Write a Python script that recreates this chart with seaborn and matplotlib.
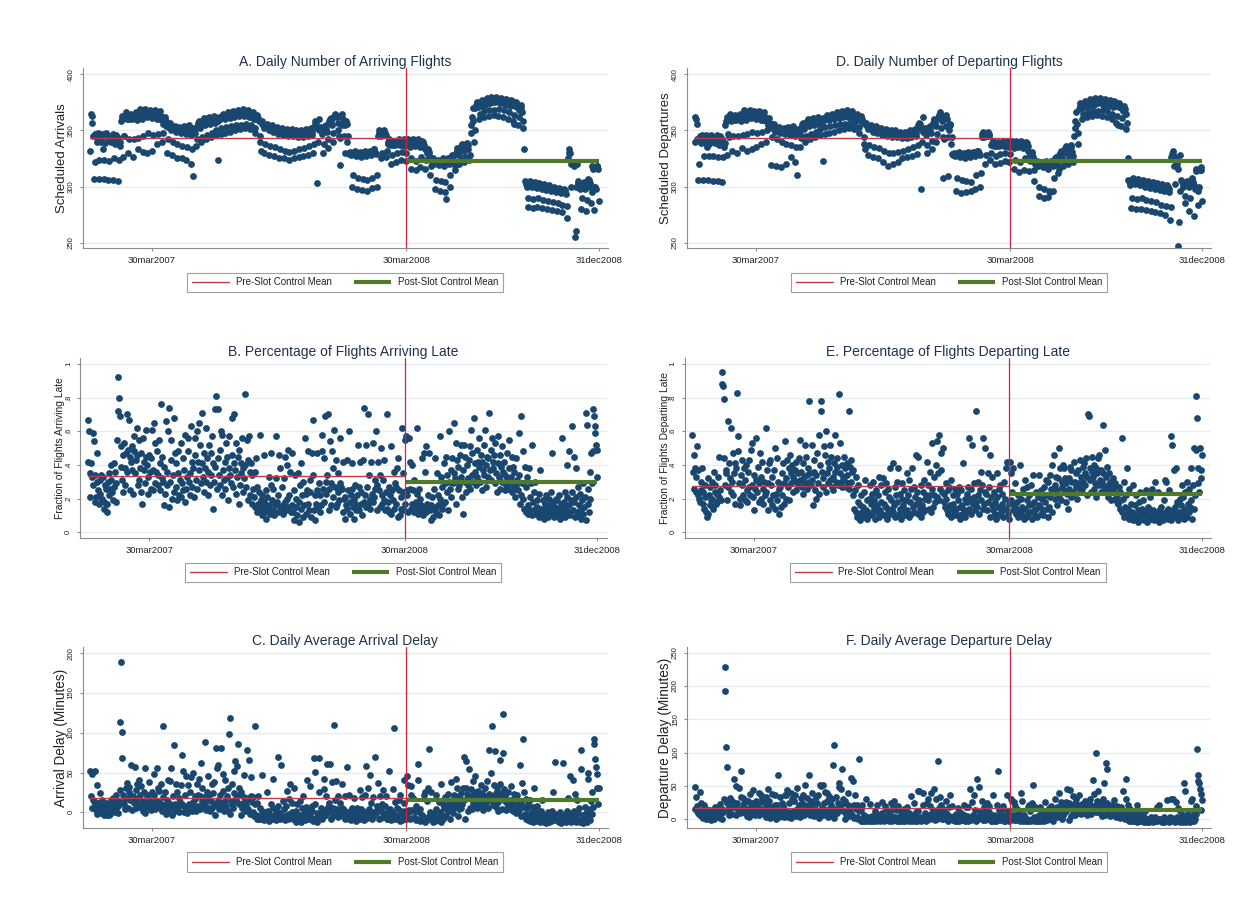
import numpy as np
import pandas as pd
import matplotlib
matplotlib.use("Agg")
import matplotlib.pyplot as plt
from matplotlib.lines import Line2D
import seaborn as sns


def series(text):
    return np.array(text.split(), dtype=float)


# Daily observations, 1 Jan 2007 - 31 Dec 2008; one row per week (Mon..Sun)
sched_arrivals = series("""
332 365 363 357 345 307 322
347 345 340 343 348 307 324
342 340 345 347 333 307 324
339 344 348 346 345 306 323
341 343 340 345 347 306 325
338 342 346 344 343 305 324
336 340 358 360 363 326 345
345 362 366 362 360 330 342
360 363 365 362 360 326 342
362 364 366 361 359 333 343
365 369 368 364 360 331 345
364 367 369 366 362 330 348
363 368 367 365 361 332 346
362 366 368 364 360 338 347
360 365 367 363 360 340 348
356 359 362 358 354 330 342
353 355 357 352 350 328 340
351 353 354 352 349 325 338
350 352 353 350 348 325 336
352 353 354 351 347 324 335
351 353 355 350 346 320 333
309 350 352 351 348 336 342
355 357 358 356 352 340 344
356 359 361 358 355 342 346
358 361 362 359 356 344 348
359 362 363 360 357 346 350
360 358 324 362 360 347 352
362 364 365 363 360 348 353
362 365 366 364 361 349 354
363 366 367 365 362 350 355
364 367 368 366 363 351 355
365 367 369 366 363 352 356
364 366 368 365 362 351 355
362 365 366 364 360 348 352
360 363 364 361 358 340 345
332 356 358 355 352 330 338
353 355 356 353 350 328 336
352 354 355 352 349 327 335
350 352 353 350 347 325 333
349 351 352 349 346 325 332
348 350 351 348 345 324 331
347 349 351 348 345 325 332
346 348 350 347 344 326 333
347 349 350 347 344 327 334
348 350 351 348 345 328 336
349 351 352 349 346 330 338
356 358 357 303 352 340 360
350 352 353 350 347 330 338
352 354 355 352 349 334 342
358 360 361 358 355 340 348
362 364 365 364 362 350 357
345 319 343 363 365 355 360
345 330 355 358 356 340 345
330 329 331 330 328 300 310
331 330 332 330 327 298 308
330 329 331 329 326 297 307
330 331 332 330 327 296 306
331 330 332 331 328 299 308
332 333 333 331 329 300 310
345 348 350 348 345 325 330
346 349 350 348 346 326 332
338 340 342 340 337 320 328
337 340 341 339 337 322 330
338 340 342 340 337 324 331
337 341 342 339 336 323 330
340 342 341 339 335 316 325
341 342 340 338 336 315 323
340 342 341 339 335 317 326
338 341 340 337 333 316 324
330 332 333 331 328 310 318
322 324 325 323 320 298 306
321 323 324 322 319 296 305
322 324 325 322 318 295 304
289 323 325 322 320 300 310
325 327 328 326 322 315 318
330 332 334 332 328 320 324
334 336 338 336 332 322 326
336 338 339 337 333 324 328
348 355 362 370 358 340 350
370 373 375 374 371 360 365
372 375 377 376 373 362 367
373 376 379 378 374 363 368
374 377 380 378 375 364 368
375 378 380 379 376 363 369
374 377 379 378 375 362 368
373 376 378 377 374 360 366
372 375 377 376 373 358 364
356 372 375 374 371 355 362
368 371 373 370 366 352 358
333 305 304 302 300 282 290
303 305 304 302 300 281 289
302 304 303 301 299 282 290
301 303 302 300 298 281 288
301 302 301 299 297 280 287
300 301 300 298 296 279 286
299 300 299 297 295 278 285
298 299 298 296 294 277 284
297 298 297 295 293 272 283
325 330 333 330 320 300 322
320 322 318 255 260 300 320
305 303 300 298 300 280 290
300 302 304 300 298 278 288
305 307 306 303 300 285 295
318 316 300 279 300 298 318
318 316 287
""")

sched_departures = series("""
340 362 360 356 342 306 320
345 343 339 341 346 306 327
341 339 343 346 335 306 327
338 342 346 345 344 305 327
340 342 339 344 346 305 326
337 341 345 343 342 304 326
335 339 355 358 362 328 347
344 361 365 360 358 332 345
359 362 364 361 359 330 345
361 363 365 360 358 334 346
364 368 367 363 359 332 347
363 366 368 365 361 333 349
362 367 366 364 360 335 348
361 365 367 363 359 338 349
359 364 366 362 358 340 350
355 358 361 357 353 319 344
352 354 356 351 349 318 342
350 352 353 351 348 317 340
349 351 352 349 347 320 338
351 352 353 350 346 326 337
350 352 354 349 345 322 335
310 349 351 350 347 335 343
354 356 357 355 351 340 345
355 358 360 357 354 342 347
357 360 361 358 355 344 349
358 361 362 359 356 346 351
359 357 323 361 359 347 353
361 363 364 362 359 348 354
361 364 365 363 360 349 355
362 365 366 364 361 350 356
363 366 367 365 362 351 356
364 366 368 365 362 352 357
363 365 367 364 361 351 356
361 364 365 363 359 348 353
359 362 363 360 357 338 344
333 355 357 354 351 328 337
352 354 355 352 349 326 335
351 353 354 351 348 325 334
349 351 352 349 346 322 332
348 350 351 348 345 318 330
347 349 350 347 344 320 330
346 348 350 347 344 322 331
345 347 349 346 343 325 332
346 348 349 346 343 326 333
347 349 350 347 344 327 335
348 350 351 348 345 329 337
355 357 356 298 351 340 362
349 351 352 349 346 330 337
351 353 354 351 348 333 341
357 359 360 357 354 340 347
361 363 364 366 364 352 358
344 308 342 362 364 354 360
344 309 350 356 355 338 344
329 328 330 329 327 296 308
330 329 331 329 326 294 306
329 328 330 328 325 295 305
329 330 331 329 326 296 304
330 329 331 330 327 298 310
331 332 332 330 328 300 312
344 347 349 347 344 320 328
345 348 349 347 345 324 330
337 339 341 339 336 320 327
336 339 340 338 336 321 329
337 339 341 339 336 323 330
336 340 341 338 335 322 329
339 341 340 338 334 316 324
340 341 339 337 335 313 322
339 341 340 338 334 315 325
337 340 339 336 332 314 323
328 330 331 329 326 305 315
320 322 323 321 318 292 300
319 321 322 320 317 290 298
320 322 323 320 316 291 296
295 321 323 320 318 296 308
323 325 326 324 320 312 316
328 330 332 330 326 318 322
332 334 336 334 330 320 325
334 336 337 335 331 322 327
345 352 358 366 356 338 348
369 372 374 373 370 360 365
371 374 376 375 372 362 366
372 375 378 377 373 363 367
373 376 379 377 374 364 367
374 377 379 378 375 363 368
373 376 378 377 374 362 367
372 375 377 376 373 360 365
371 374 376 375 372 357 363
355 371 374 373 370 354 361
367 370 372 369 365 351 357
325 306 305 303 301 281 290
306 308 307 305 302 280 289
305 307 306 304 301 280 290
304 306 305 303 300 279 288
303 305 304 302 299 278 287
302 304 303 301 298 277 286
301 303 302 300 297 276 284
300 302 301 299 296 275 283
299 301 300 298 295 270 282
326 329 332 329 318 302 325
322 320 316 247 268 296 328
306 304 302 300 302 285 292
302 304 305 302 300 278 290
306 308 307 304 301 274 298
316 314 299 284 296 300 315
317 315 287
""")

# share of flights arriving / departing late, in percent
late_arr_pct = series("""
67 42 60 21 35 41 33
59 28 54 18 34 21 30
47 25 17 31 23 34 19
20 33 18 14 28 26 12
17 30 35 22 26 40 31
24 19 41 27 36 18 29
55 72 92 80 69 51 39
31 24 46 53 38 28 47
70 36 49 67 25 45 42
37 51 23 48 57 35 43
62 46 28 55 31 38 24
47 17 56 37 42 29 45
61 40 33 23 46 36 26
44 61 25 37 65 29 53
36 48 28 34 55 25 41
76 32 45 30 16 39 23
66 36 28 60 74 15 30
43 55 20 34 68 24 47
27 41 19 35 48 22 31
53 21 29 44 25 37 18
58 26 33 48 56 30 22
35 63 27 42 38 21 56
46 31 60 26 42 65 37
52 29 41 71 33 24 47
38 62 30 44 22 36 52
28 47 34 57 14 41 30
73 39 81 26 44 73 34
28 49 60 22 58 37 31
42 26 53 32 45 19 38
57 34 29 46 68 27 41
70 37 23 53 33 45 17
49 28 35 41 56 24 38
32 82 40 27 55 19 43
57 36 22 41 17 34 26
21 36 15 44 12 27 17
13 24 58 19 10 22 15
18 46 12 25 8 21 14
33 16 11 28 47 19 13
26 10 16 32 57 18 12
22 46 15 38 14 27 11
16 32 18 45 13 40 20
49 15 22 36 12 47 16
12 25 7 34 20 15 10
35 18 6 28 14 41 22
9 30 16 56 23 11 25
48 17 13 31 24 9 47
34 67 13 22 7 17 25
47 15 29 22 12 16 48
58 26 18 44 69 30 23
34 70 26 13 54 29 16
48 21 38 61 27 43 15
17 35 24 19 56 29 27
26 12 42 20 8 21 16
43 14 25 60 18 11 22
26 41 15 8 19 28 13
16 22 52 27 13 42 17
24 10 43 18 74 22 15
52 27 17 70 34 20 14
42 23 18 53 21 31 26
60 28 13 42 25 15 34
50 22 17 31 43 19 13
24 14 70 18 27 12 22
11 51 25 19 36 14 29
17 27 38 44 9 25 10
21 14 62 35 24 13 17
55 57 22 25 12 56 42
26 14 40 17 25 31 12
15 18 62 23 11 26 14
20 13 16 44 10 47 15
36 12 51 17 14 22 47
13 16 7 21 15 9 26
44 14 12 35 16 22 10
57 20 33 14 27 17 41
18 29 45 24 34 13 30
60 26 37 21 44 29 35
65 32 53 17 43 26 39
28 46 33 52 21 37 11
52 30 45 24 40 32 28
43 51 26 61 34 47 30
68 41 36 28 49 33 42
39 56 30 46 25 42 37
52 34 61 40 27 45 33
44 71 37 49 31 56 42
38 46 29 53 35 24 41
57 33 46 26 39 30 51
36 42 25 34 28 47 32
26 38 55 29 33 24 45
39 27 36 21 44 28 31
25 59 34 17 69 22 29
48 20 14 39 27 12 33
16 11 38 21 13 29 10
52 18 24 14 30 11 19
15 12 9 23 37 14 11
10 19 13 8 17 12 22
14 9 20 11 16 24 13
47 12 18 9 15 20 11
19 10 14 22 8 13 17
56 15 11 18 9 24 14
40 21 12 48 16 10 19
63 24 13 45 18 9 38
21 12 27 10 16 23 14
8 19 11 29 15 21 7
71 64 17 26 12 36 20
47 29 48 73 69 59 63
52 33 49
""")

late_dep_pct = series("""
58 36 46 26 38 33 24
51 22 37 20 18 30 25
38 17 24 14 28 21 12
9 32 11 22 16 27 19
20 30 14 36 24 28 17
23 18 33 21 45 25 19
95 88 87 79 44 28 35
37 19 66 27 41 32 24
62 30 22 47 35 17 41
38 83 57 48 29 20 16
34 43 28 22 38 19 31
40 25 18 36 27 43 22
49 28 53 21 34 13 26
56 31 24 39 18 29 47
33 20 42 26 17 30 22
62 24 37 29 13 41 19
43 28 16 33 22 37 14
50 23 19 44 30 11 26
27 15 35 22 41 17 29
54 32 20 43 27 38 19
46 29 35 40 24 33 31
37 25 42 30 35 28 44
31 55 36 27 41 23 33
52 29 45 34 26 38 30
78 35 28 52 31 16 36
43 25 34 20 47 29 23
58 40 78 72 36 32 27
51 46 24 60 35 29 42
38 52 31 45 27 33 25
41 36 58 30 44 39 28
82 35 53 30 40 27 33
45 31 38 27 41 34 29
72 26 39 43 30 36 22
37 14 25 12 33 9 18
28 11 16 7 22 12 10
15 24 9 31 13 19 8
12 20 28 10 17 23 11
30 14 19 8 25 12 16
22 9 33 13 18 28 11
32 17 10 24 15 29 8
26 13 21 38 11 19 14
41 12 16 27 9 22 30
18 38 11 23 14 8 20
29 16 13 25 10 19 35
13 22 9 31 18 11 26
38 15 27 12 21 46 17
24 45 11 19 14 9 28
16 24 12 31 20 13 22
42 19 28 14 36 22 12
53 26 15 33 22 18 40
54 21 35 58 19 26 47
37 24 50 18 23 15 29
20 13 25 11 27 16 9
31 14 22 17 12 26 10
14 23 10 19 27 8 15
25 16 11 41 13 20 9
12 23 18 27 14 56 20
26 11 52 17 21 29 13
72 18 15 30 22 11 25
36 19 28 14 56 17 24
50 23 13 35 18 27 9
46 21 16 33 13 24 11
18 8 35 21 15 26 10
28 12 17 23 9 30 14
20 38 14 42 11 17 8
42 35 19 24 13 38 16
15 29 11 18 22 9 13
40 12 20 15 10 26 8
31 14 9 19 27 11 16
22 12 28 8 17 34 13
18 10 24 14 9 21 16
34 15 11 25 20 10 13
27 18 31 22 14 9 30
15 21 34 26 12 40 24
46 28 20 33 16 25 32
50 22 38 19 30 27 40
38 25 32 18 29 23 14
32 26 39 21 37 30 24
23 42 30 27 35 20 28
37 29 43 24 33 26 39
30 41 35 28 44 22 33
70 69 31 38 24 45 36
33 26 40 29 38 21 35
44 28 46 31 24 37 30
64 35 27 49 33 25 39
28 21 35 24 30 19 26
32 25 27 20 29 23 18
22 17 27 14 24 19 12
56 20 9 30 15 22 11
38 14 8 26 11 17 9
12 7 28 10 16 8 22
9 13 6 18 11 24 8
14 10 19 7 12 8 25
11 6 15 9 21 13 8
26 9 13 7 11 30 10
12 8 24 10 6 14 9
15 11 7 19 9 31 12
30 10 14 8 25 11 7
57 52 13 9 37 15 11
38 10 18 7 12 20 9
16 28 10 21 8 14 24
11 30 9 17 26 12 15
38 19 8 28 14 50 22
49 81 68 29 38 24 50
37 32 46
""")

# average delay, minutes
arr_delay = series("""
52 20 48 5 16 14 10
52 3 34 -2 12 0 8
24 6 -1 15 2 10 -3
0 12 -2 -4 8 5 -3
-2 10 16 3 7 18 12
5 0 22 7 14 -1 9
28 113 189 101 68 22 15
10 4 30 37 18 6 25
32 16 20 60 3 21 14
12 57 6 28 35 11 18
40 22 7 33 8 14 2
25 -1 56 12 20 6 22
38 15 9 3 26 10 5
22 48 4 14 56 8 30
13 27 6 10 35 2 19
108 9 25 8 -2 15 3
40 12 6 39 56 -3 9
20 85 1 11 36 3 25
6 18 0 13 34 72 10
52 0 8 22 4 45 -1
34 5 11 26 44 7 2
13 50 5 20 17 1 36
22 8 42 4 20 62 14
30 7 19 88 11 3 25
16 46 6 22 2 14 35
6 24 10 38 -4 81 9
56 16 59 4 22 81 12
5 27 48 1 40 14 8
20 2 30 99 118 -2 14
36 10 6 24 52 65 18
58 13 86 31 10 23 -3
26 5 12 19 47 2 15
9 78 18 4 66 -2 20
44 13 0 19 -5 10 108
-4 12 -8 20 -9 5 -5
-8 1 47 -3 -10 0 -6
-4 25 -9 2 -11 -2 -7
10 -6 -9 5 42 -3 -8
3 -10 -5 8 69 -4 -8
-1 60 -6 14 -7 4 -10
-5 8 -3 27 -8 17 -2
35 -6 0 12 -9 30 -5
-9 2 -12 10 -3 -7 -10
14 -4 -12 5 -7 20 -1
-10 7 -5 41 0 -9 2
33 -5 -8 8 1 -11 68
10 51 -7 -1 -12 -5 68
26 -7 6 -1 -9 -6 29
42 3 -4 21 61 7 0
12 61 3 -8 38 6 -5
110 -1 15 39 4 20 -6
-5 12 1 -3 36 6 4
3 -9 20 -2 57 -1 -6
22 -8 2 -10 -4 5 -9
3 18 -7 -11 -3 6 -8
-6 -1 28 4 -9 19 -5
1 -10 22 -4 58 -1 -7
30 4 -5 47 12 -2 -8
19 0 -4 70 -1 8 3
37 5 -8 20 2 -7 11
28 -1 -6 8 21 -4 -9
1 -8 52 -5 4 -10 0
-9 29 106 -3 13 -8 6
-5 4 16 22 -11 2 -10
-2 -8 40 12 1 -9 -5
46 34 0 3 -9 33 22
3 -7 18 -6 2 8 -10
-8 61 40 0 -11 4 -8
-3 -9 -6 22 -12 25 -7
14 -10 30 -5 80 0 25
-9 -6 -12 -1 -7 -11 4
22 -8 -10 13 -6 0 -12
35 -3 11 -8 5 -5 19
-4 7 23 2 12 -9 8
38 4 15 -1 22 7 13
42 10 31 -5 21 4 17
6 24 11 30 70 15 -9
30 65 23 2 18 54 6
21 29 4 39 12 25 8
46 19 14 6 27 11 20
17 34 8 24 3 20 15
30 12 39 18 5 23 78
22 49 15 109 9 34 20
77 24 7 31 13 2 19
35 66 24 4 123 75 29
14 20 3 12 6 25 10
4 16 33 7 11 2 23
17 5 14 -1 22 6 9
3 59 12 -5 37 92 7
26 -2 -8 17 5 -10 11
-6 -11 16 -1 -9 7 -12
30 -4 2 -8 8 -11 -3
-7 -10 -12 1 15 -8 -11
-12 -3 -9 -13 -5 -10 0
-8 -12 -2 -11 -6 2 -9
25 -10 -4 63 -7 -2 -11
-3 -12 -8 0 -13 -9 -5
62 -7 -11 -4 -12 2 -8
18 -1 -10 46 -6 -12 -3
41 2 -9 23 -4 -12 16
-1 -10 5 -12 78 54 -8
-13 -3 -11 7 -7 -1 -12
49 42 -5 4 -10 14 -2
25 7 92 86 67 57 48
30 11 30
""")

dep_delay = series("""
48 16 33 12 20 10 8
41 6 24 3 14 2 10
22 9 1 16 5 12 0
3 14 1 -1 10 6 0
0 12 18 5 9 19 13
8 2 23 10 15 1 11
30 192 228 109 79 25 16
12 6 32 29 19 8 26
60 18 22 50 6 24 16
14 47 9 72 33 12 20
32 24 10 29 11 16 5
27 3 38 15 22 8 24
44 18 12 6 27 13 8
23 40 7 16 36 10 30
15 26 8 12 33 4 21
45 11 27 10 2 18 5
38 14 9 36 22 1 12
21 66 4 13 33 5 25
9 20 3 15 36 37 12
44 3 11 24 6 40 2
31 8 13 27 36 9 5
16 47 8 22 19 4 32
24 11 36 7 22 51 16
32 10 21 67 14 6 27
18 40 9 24 5 16 34
9 25 12 36 2 52 11
50 18 51 7 24 41 14
8 28 40 4 35 16 10
22 5 30 82 111 2 16
34 13 9 25 54 48 20
46 15 76 30 12 25 1
27 8 14 21 40 5 17
11 62 20 7 58 2 21
36 15 3 21 0 12 90
1 14 -2 22 -3 7 0
-2 4 31 1 -3 3 0
1 23 -2 5 -3 2 -1
13 0 -2 8 22 1 -1
6 -3 0 10 26 1 -2
3 20 0 16 -1 7 -3
0 11 2 24 -2 18 3
28 0 4 14 -2 20 1
-2 5 -3 12 2 -1 -3
16 1 -3 8 -1 19 3
-3 10 0 35 4 -2 6
25 0 -2 11 5 -3 42
13 43 -1 3 -3 1 40
22 -1 9 3 -2 0 24
31 6 1 20 40 10 4
14 45 6 -1 30 9 1
88 3 17 33 8 21 0
0 15 5 2 28 9 7
6 -2 19 3 36 4 0
20 -1 5 -3 1 8 -2
6 17 0 -3 2 9 -1
0 4 22 7 -2 18 1
5 -3 19 1 46 4 -1
26 7 1 36 14 3 -2
60 4 1 48 3 11 6
28 8 -1 18 5 -1 13
24 4 0 11 20 1 -2
5 -2 37 1 7 -3 3
-2 22 73 2 14 -1 9
0 7 16 20 -3 5 -2
2 -1 36 13 4 -2 0
30 27 4 6 -1 26 20
6 -1 16 0 5 10 -3
-1 40 28 3 -3 7 -1
1 -2 0 18 -3 21 -1
13 -3 24 0 52 4 20
-2 0 -3 3 -1 -3 7
18 -1 -2 12 0 4 -3
26 1 11 -1 8 0 17
1 9 20 5 12 -2 10
30 7 15 3 19 9 13
39 12 26 1 19 7 16
9 21 12 26 45 15 -1
25 44 20 5 17 35 8
19 24 7 30 12 21 10
36 17 14 8 23 12 19
16 28 9 21 6 18 14
26 13 31 16 8 20 59
20 38 14 99 11 28 18
42 21 9 26 13 5 17
30 54 21 6 85 76 25
14 18 5 12 8 22 10
6 15 29 9 12 4 20
15 7 13 2 19 8 10
5 42 12 0 30 60 9
22 1 -2 15 6 -3 10
-1 -3 13 2 -2 8 -4
22 0 4 -2 9 -3 1
-2 -3 -4 3 12 -1 -3
-4 0 -2 -4 -1 -3 3
-1 -4 1 -3 0 4 -2
18 -3 0 21 -1 1 -3
0 -4 -1 3 -4 -2 0
29 -1 -3 0 -4 4 -1
30 2 -3 31 0 -4 1
26 4 -2 17 0 -4 13
2 -3 6 -4 54 42 -1
-4 1 -3 8 -1 2 -4
28 31 0 5 -2 12 1
20 8 106 66 57 55 45
38 14 29
""")

dates = pd.date_range("2007-01-01", "2008-12-31", freq="D")
slot_date = pd.Timestamp("2008-03-30")

date_ticks = ["2007-03-30", "2008-03-30", "2008-12-31"]
date_tick_labels = ["30mar2007", "30mar2008", "31dec2008"]

titles = ["A. Daily Number of Arriving Flights",
          "B. Percentage of Flights Arriving Late",
          "C. Daily Average Arrival Delay",
          "D. Daily Number of Departing Flights",
          "E. Percentage of Flights Departing Late",
          "F. Daily Average Departure Delay"]
ylabels = ["Scheduled Arrivals", "Fraction of Flights Arriving Late",
           "Arrival Delay (Minutes)", "Scheduled Departures",
           "Fraction of Flights Departing Late", "Departure Delay (Minutes)"]
pre_means = [343.3, 0.337, 18.0, 342.9, 0.277, 17.5]
post_means = [322.9, 0.299, 15.5, 322.9, 0.225, 13.5]

count_ticks = [250, 300, 350, 400]
share_ticks = [0, 0.2, 0.4, 0.6, 0.8, 1.0]
share_tick_labels = ["0", ".2", ".4", ".6", ".8", "1"]
arr_delay_ticks = [0, 50, 100, 150, 200]
dep_delay_ticks = [0, 50, 100, 150, 200, 250]
legend_labels = ["Pre-Slot Control Mean", "Post-Slot Control Mean"]

# ---------------------------------------------------------------- styling
sns.set_style("white")
plt.rcParams["font.family"] = ["Liberation Sans", "DejaVu Sans"]

NAVY = "#1a476f"
RED_LINE = "#d0243f"
RED_MEAN = "#c23b4c"
GREEN = "#4f7a28"
GRID = "#e4eef0"
AXIS = "#8c8c8c"
TITLE_C = "#1f3250"
TEXT_C = "#222222"

W, H = 1252, 901
fig = plt.figure(figsize=(W / 100, H / 100), dpi=100)
fig.patch.set_facecolor("white")


def add_axes_px(left, top, right, bottom):
    return fig.add_axes([left / W, 1 - bottom / H, (right - left) / W, (bottom - top) / H])


values = [sched_arrivals, late_arr_pct / 100, arr_delay,
          sched_departures, late_dep_pct / 100, dep_delay]
boxes = [(82.7, 68.3, 607.7, 248.3), (80.0, 358.3, 606.5, 538.3), (82.7, 647.3, 607.7, 827.7),
         (687.0, 68.3, 1211.0, 248.3), (684.5, 358.3, 1211.0, 538.3), (687.0, 647.3, 1211.0, 827.7)]
yticks = [count_ticks, share_ticks, arr_delay_ticks, count_ticks, share_ticks, dep_delay_ticks]
yticklabels = [[str(t) for t in count_ticks], share_tick_labels, [str(t) for t in arr_delay_ticks],
               [str(t) for t in count_ticks], share_tick_labels, [str(t) for t in dep_delay_ticks]]
ylims = [(245.0, 405.3), (-0.036, 1.034), (-19.4, 207.5),
         (245.0, 405.3), (-0.036, 1.034), (-12.6, 258.0)]
ylabel_sizes = [9.5, 7.4, 9.8, 9.5, 7.4, 9.8]

xlim = (pd.Timestamp("2006-12-21"), pd.Timestamp("2009-01-13"))

for i in range(6):
    box = boxes[i]
    ax = add_axes_px(*box)
    width_px = box[2] - box[0]
    df = pd.DataFrame({"date": dates, "value": values[i]})

    sns.scatterplot(data=df, x="date", y="value", ax=ax, color=NAVY, s=24,
                    linewidth=0, zorder=2, legend=False)

    ax.plot([dates[0], slot_date], [pre_means[i], pre_means[i]],
            color=RED_MEAN, lw=1.0, zorder=3)
    ax.plot([slot_date, dates[-1]], [post_means[i], post_means[i]],
            color=GREEN, lw=3.0, zorder=3, solid_capstyle="butt")
    ax.axvline(slot_date, color=RED_LINE, lw=0.9, zorder=4)

    ax.set_xlim(*xlim)
    ax.set_ylim(*ylims[i])
    ax.set_xticks(pd.to_datetime(date_ticks))
    ax.set_xticklabels(date_tick_labels)
    ax.set_yticks(yticks[i])
    ax.set_yticklabels(yticklabels[i], rotation=90, va="center")

    ax.grid(axis="y", color=GRID, lw=1.0, zorder=0)
    ax.grid(axis="x", visible=False)
    ax.set_axisbelow(True)
    for side in ("top", "right"):
        ax.spines[side].set_visible(False)
    for side in ("left", "bottom"):
        ax.spines[side].set_color(AXIS)
        ax.spines[side].set_linewidth(0.8)

    ax.tick_params(axis="x", length=2.4, width=0.8, color=AXIS, labelsize=6.8,
                   pad=3.4, labelcolor=TEXT_C, bottom=True)
    ax.tick_params(axis="y", length=2.4, width=0.8, color=AXIS, labelsize=5.6,
                   pad=3.4, labelcolor=TEXT_C, left=True)

    ax.set_xlabel("")
    ax.set_ylabel(ylabels[i], fontsize=ylabel_sizes[i], color=TEXT_C)
    ax.yaxis.set_label_coords(-15.0 / width_px, 0.5)
    ax.set_title(titles[i], fontsize=10, color=TITLE_C, pad=2)

    handles = [Line2D([], [], color=RED_MEAN, lw=1.0),
               Line2D([], [], color=GREEN, lw=3.0, solid_capstyle="butt")]
    leg = ax.legend(handles, legend_labels, loc="upper center",
                    bbox_to_anchor=(0.5, -0.108), ncol=2, frameon=True,
                    fancybox=False, edgecolor="#a0a0a0", framealpha=1,
                    fontsize=7, handlelength=3.8, handletextpad=0.7,
                    columnspacing=2.3, borderpad=0.5, labelcolor=TEXT_C)
    leg.get_frame().set_linewidth(0.8)

fig.savefig("out.png", dpi=100, facecolor="white")
